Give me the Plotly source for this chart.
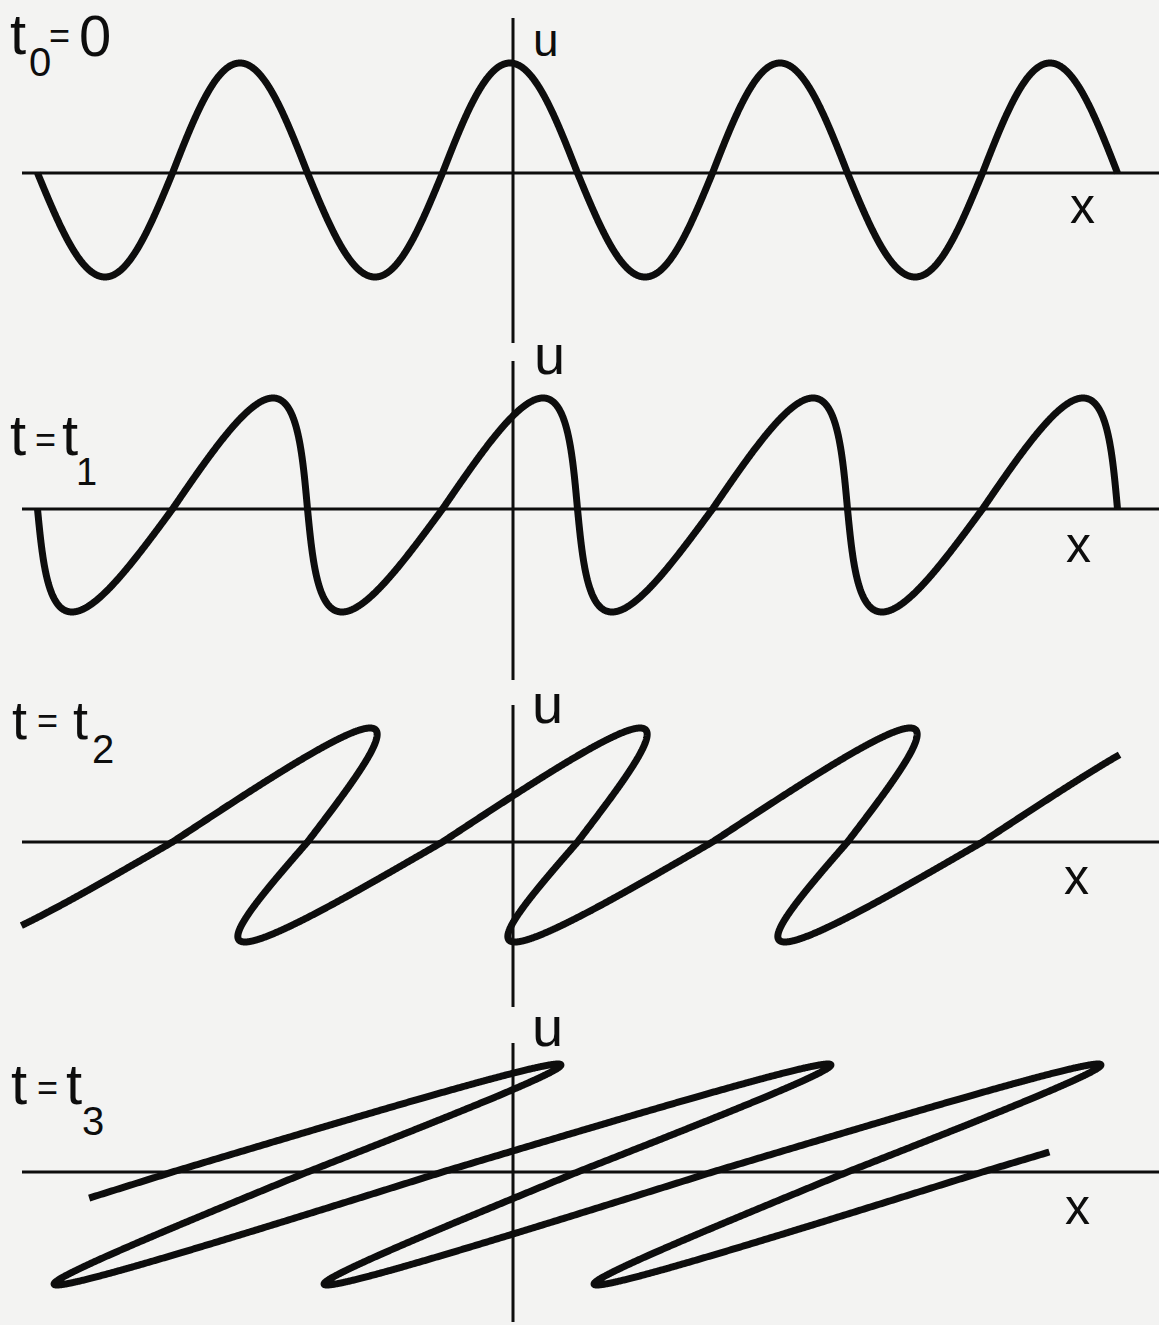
import numpy as np
import plotly.graph_objects as go

# Steepening of a sinusoidal wave u(x, t): every point of the initial profile
# travels with its own speed u, so x = xi + u(xi) * t (multi-valued once it breaks).

W, H = 1159, 1325

# initial profile: cosine with crest at XI_CREST and wavelength WAVELENGTH (x units)
WAVELENGTH = 270.0
XI_CREST = 240.0

crest_shift = [0.0, 33.0, 130.0, 318.0]      # distance travelled by a crest, u_max * t
crest_height = [110.0, 111.0, 114.0, 108.0]  # u at the crests
trough_depth = [104.0, 103.0, 100.0, 113.0]  # |u| at the troughs
xi_start = [37.5, 37.5, 130.0, 162.5]        # first material point drawn
xi_end = [1117.5, 1117.5, 1020.0, 990.5]     # last material point drawn

# panel captions, split into glyph groups: (text, centre x px, centre y px, font size)
caption_parts = [
    [("t", 18, 33, 58), ("0", 40, 62, 40), ("=", 59, 36, 36), ("0", 95, 36, 58)],
    [("t", 18, 434, 58), ("=", 45, 440, 36), ("t", 70, 434, 58), ("1", 86, 472, 38)],
    [("t", 19, 720, 54), ("=", 47, 720, 36), ("t", 80, 720, 54), ("2", 103, 749, 40)],
    [("t", 19, 1083, 58), ("=", 47, 1087, 36), ("t", 74, 1083, 58), ("3", 93, 1121, 40)],
]

# layout: where each panel's x-axis sits (pixels from top) and the u-axis column
baseline_px = [173, 509, 842, 1172]
u_axis_x = 513
x_axis_from = 22
u_axis_segments = [(18, 343), (361, 680), (705, 1007), (1043, 1322)]
u_label_pos = [(546, 40, 46), (549, 355, 56), (547, 703, 56), (547, 1026, 56)]
x_label_pos = [(1082, 206), (1078, 545), (1076, 877), (1077, 1207)]

INK = "#0d0d0d"
PAPER = "#f3f3f2"
FONT = "Liberation Sans"

fig = go.Figure()

for i in range(4):
    xi = np.linspace(xi_start[i], xi_end[i], 3000)
    c = np.cos(2 * np.pi * (xi - XI_CREST) / WAVELENGTH)
    x = xi + crest_shift[i] * c
    u = np.where(c > 0, crest_height[i] * c, trough_depth[i] * c)
    yname = "y" if i == 0 else f"y{i + 1}"
    fig.add_trace(go.Scatter(
        x=x, y=u, mode="lines", xaxis="x", yaxis=yname,
        line=dict(color=INK, width=7, simplify=False),
        hoverinfo="skip", showlegend=False,
    ))

layout_axes = {}
for i in range(4):
    key = "yaxis" if i == 0 else f"yaxis{i + 1}"
    ax = dict(range=[baseline_px[i] - H, baseline_px[i]], visible=False,
              fixedrange=True, domain=[0, 1])
    if i > 0:
        ax["overlaying"] = "y"
    layout_axes[key] = ax

shapes = []
for i in range(4):
    yref = "y" if i == 0 else f"y{i + 1}"
    shapes.append(dict(type="line", xref="x", yref=yref, x0=x_axis_from, x1=W,
                       y0=0, y1=0, line=dict(color=INK, width=3)))
for (a, b) in u_axis_segments:
    shapes.append(dict(type="line", xref="x", yref="paper", x0=u_axis_x, x1=u_axis_x,
                       y0=1 - a / H, y1=1 - b / H, line=dict(color=INK, width=3)))


def label(txt, px, py, size):
    return dict(xref="paper", yref="paper", x=px / W, y=1 - py / H,
                xanchor="center", yanchor="middle", showarrow=False, text=txt,
                font=dict(family=FONT, size=size, color=INK))


annotations = []
for parts in caption_parts:
    for (txt, px, py, s) in parts:
        annotations.append(label(txt, px, py, s))
for (px, py, s) in u_label_pos:
    annotations.append(label("u", px, py, s))
for (px, py) in x_label_pos:
    annotations.append(label("x", px, py, 50))

fig.update_layout(
    width=W, height=H, margin=dict(l=0, r=0, t=0, b=0),
    paper_bgcolor=PAPER, plot_bgcolor=PAPER,
    xaxis=dict(range=[0, W], visible=False, fixedrange=True),
    shapes=shapes, annotations=annotations, showlegend=False,
    **layout_axes,
)

fig.write_html("out.html", config={"displayModeBar": False})
